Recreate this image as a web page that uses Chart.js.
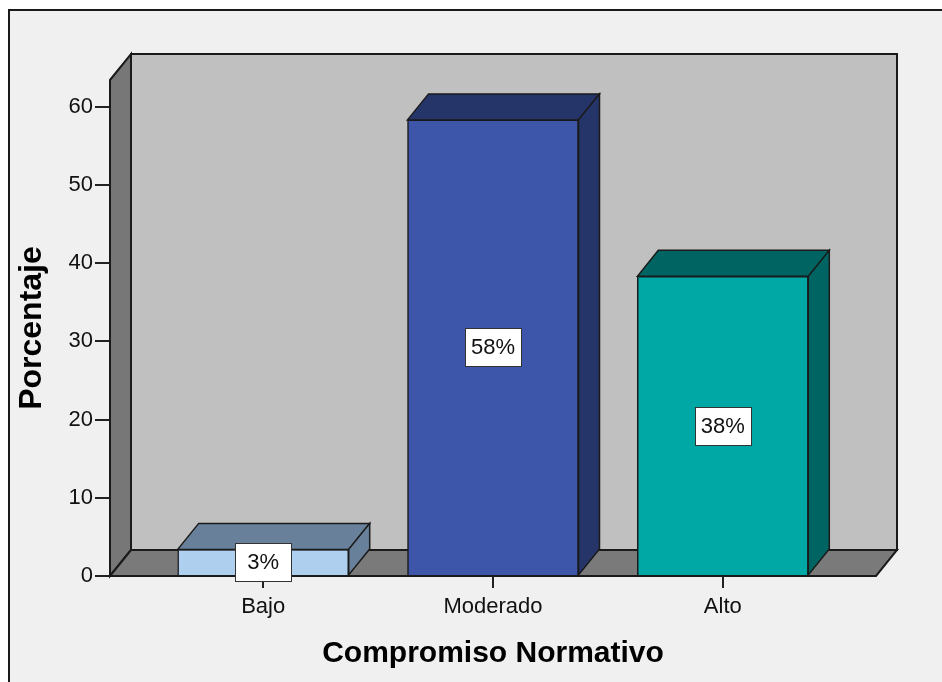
<!DOCTYPE html>
<html>
<head>
<meta charset="utf-8">
<script src="https://cdn.jsdelivr.net/npm/chart.js@4/dist/chart.umd.min.js"></script>
<style>
  html, body { margin: 0; padding: 0; background: #ffffff; }
  canvas { display: block; }
</style>
</head>
<body>
<canvas id="chart" width="942" height="682"></canvas>
<script>
// data
const categories = ['Bajo', 'Moderado', 'Alto'];
const percentages = [3.4, 58.3, 38.3];
const yTicks = [0, 10, 20, 30, 40, 50, 60];

const frontColors = ['#aecfee', '#3d56a9', '#00a8a5'];
const shadeColors = ['#69809a', '#263569', '#006562'];

const DX = 21, DY = -26;
const FONT = "'Liberation Sans', Arial, sans-serif";

function poly(ctx, pts, fill) {
    ctx.beginPath();
    ctx.moveTo(pts[0][0], pts[0][1]);
    for (let i = 1; i < pts.length; i++) ctx.lineTo(pts[i][0], pts[i][1]);
    ctx.closePath();
    ctx.fillStyle = fill;
    ctx.fill();
    ctx.stroke();
}

// frame + walls + floor, drawn behind the bars
const box3d = {
    id: 'box3d',
    beforeDraw(chart) {
        const ctx = chart.ctx;
        ctx.save();
        ctx.fillStyle = '#ffffff';
        ctx.fillRect(0, 0, chart.width, chart.height);
        ctx.fillStyle = '#f0f0f0';
        ctx.fillRect(8, 9, chart.width, chart.height);
        ctx.strokeStyle = '#1a1a1a';
        ctx.lineWidth = 2;
        ctx.beginPath();
        ctx.moveTo(9, chart.height);
        ctx.lineTo(9, 10);
        ctx.lineTo(chart.width, 10);
        ctx.stroke();
        ctx.restore();
    },
    beforeDatasetsDraw(chart) {
        const { left, right, top, bottom } = chart.chartArea;
        const ctx = chart.ctx;
        ctx.save();
        ctx.strokeStyle = '#1a1a1a';
        ctx.lineWidth = 2;
        // back wall
        poly(ctx, [[left + DX, top + DY], [right + DX, top + DY], [right + DX, bottom + DY], [left + DX, bottom + DY]], '#c0c0c0');
        // side wall
        poly(ctx, [[left, top], [left + DX, top + DY], [left + DX, bottom + DY], [left, bottom]], '#777777');
        // floor
        poly(ctx, [[left, bottom], [left + DX, bottom + DY], [right + DX, bottom + DY], [right, bottom]], '#7a7a7a');
        ctx.restore();
    },
    afterDatasetsDraw(chart) {
        const ctx = chart.ctx;
        const bars = chart.getDatasetMeta(0).data;
        ctx.save();
        ctx.strokeStyle = '#1a1a1a';
        ctx.lineWidth = 1.5;
        bars.forEach((bar, i) => {
            const { x, y, base, width } = bar.getProps(['x', 'y', 'base', 'width'], true);
            const l = x - width / 2, r = x + width / 2;
            // top face
            poly(ctx, [[l, y], [l + DX, y + DY], [r + DX, y + DY], [r, y]], shadeColors[i]);
            // right face
            poly(ctx, [[r, y], [r + DX, y + DY], [r + DX, base + DY], [r, base]], shadeColors[i]);
        });
        // value labels
        ctx.font = '22px ' + FONT;
        ctx.textAlign = 'center';
        ctx.textBaseline = 'middle';
        ctx.lineWidth = 1;
        bars.forEach((bar, i) => {
            const { x, y, base } = bar.getProps(['x', 'y', 'base'], true);
            const cy = Math.round((y + base) / 2);
            const bx = Math.round(x - 28) + 0.5, by = cy - 19 + 0.5;
            ctx.fillStyle = '#ffffff';
            ctx.fillRect(bx, by, 56, 38);
            ctx.strokeStyle = '#333333';
            ctx.strokeRect(bx, by, 56, 38);
            ctx.fillStyle = '#111111';
            ctx.fillText(Math.round(percentages[i]) + '%', x, cy + 1);
        });
        ctx.restore();
    }
};

new Chart(document.getElementById('chart'), {
    type: 'bar',
    data: {
        datasets: [{
            data: percentages.map((v, i) => ({ x: i, y: v })),
            backgroundColor: frontColors,
            borderColor: '#1a1a1a',
            borderWidth: 1.5,
            barThickness: 171
        }]
    },
    options: {
        responsive: false,
        animation: false,
        events: [],
        layout: { padding: { left: 0, top: 80, right: 66, bottom: 0 } },
        plugins: {
            legend: { display: false },
            tooltip: { enabled: false }
        },
        scales: {
            x: {
                type: 'linear',
                offset: false,
                min: -2 / 3,
                max: 2 + 2 / 3,
                afterBuildTicks: s => { s.ticks = categories.map((c, i) => ({ value: i })); },
                afterFit: s => { s.height = 106; },
                ticks: {
                    callback: v => categories[v],
                    color: '#111111',
                    font: { family: FONT, size: 22 },
                    padding: 6,
                    maxRotation: 0
                },
                grid: { offset: false, drawOnChartArea: false, tickLength: 12, color: '#222222', lineWidth: 2 },
                border: { display: false },
                title: {
                    display: true,
                    text: 'Compromiso Normativo',
                    color: '#000000',
                    font: { family: FONT, size: 30, weight: 'bold' },
                    padding: { top: 0, bottom: 10 }
                }
            },
            y: {
                min: 0,
                max: 63.4,
                afterBuildTicks: s => { s.ticks = yTicks.map(v => ({ value: v })); },
                afterFit: s => { s.width = 110; },
                ticks: {
                    color: '#111111',
                    font: { family: FONT, size: 22 },
                    padding: 2
                },
                grid: { drawOnChartArea: false, tickLength: 15, color: '#222222', lineWidth: 2 },
                border: { display: false },
                title: {
                    display: true,
                    text: 'Porcentaje',
                    color: '#000000',
                    font: { family: FONT, size: 32, weight: 'bold' },
                    padding: { top: 13, bottom: 0 }
                }
            }
        }
    },
    plugins: [box3d]
});
</script>
</body>
</html>
